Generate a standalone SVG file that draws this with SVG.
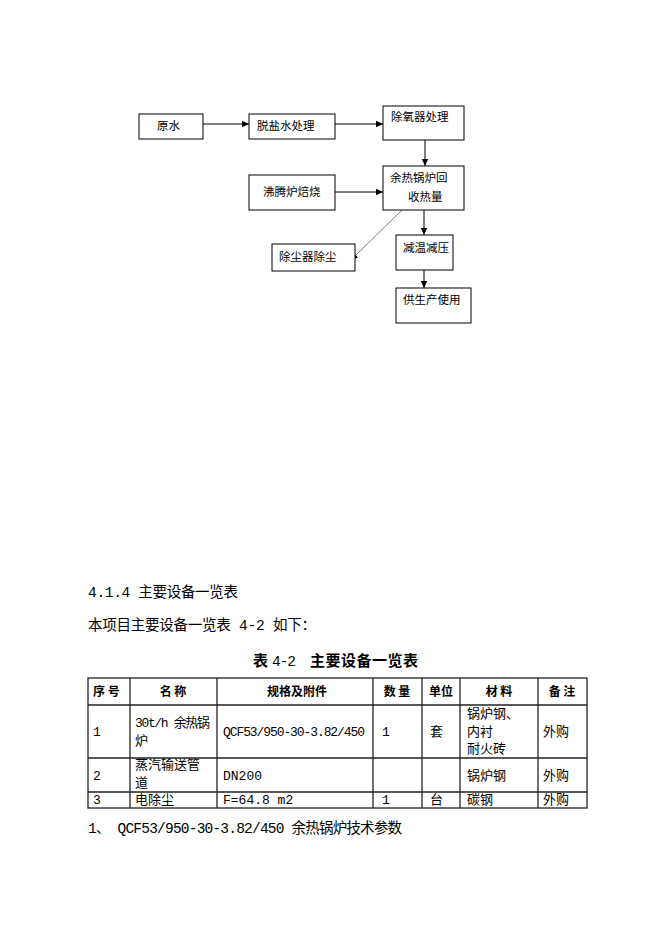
<svg xmlns="http://www.w3.org/2000/svg" width="662" height="936" viewBox="0 0 662 936">
<style>
.box{fill:#fff;stroke:#000;stroke-width:1}
.fc{font-family:"Noto Sans CJK SC","Liberation Sans",sans-serif;font-size:11.5px;fill:#000}
.ln{stroke:#000;stroke-width:1;fill:none}
.dg{stroke:#444;stroke-width:0.7;fill:none}
.body{font-family:"Liberation Mono","Noto Sans CJK SC",monospace;font-size:14.5px;fill:#000}
.cap{font-family:"Noto Sans CJK SC",sans-serif;font-size:15px;font-weight:bold;fill:#000}
.capn{font-family:"Liberation Mono",monospace;font-size:14.5px;fill:#000}
.th{font-family:"Noto Sans CJK SC",sans-serif;font-size:12px;font-weight:bold;fill:#000}
.td{font-family:"Liberation Mono","Noto Sans CJK SC",monospace;font-size:13px;fill:#000}
.grid{stroke:#222;stroke-width:1.3;fill:none}
</style>
<defs>
<marker id="ah" markerWidth="8" markerHeight="8" refX="7" refY="4" orient="auto" markerUnits="userSpaceOnUse">
<path d="M0,0.8 L7,4 L0,7.2 Z" fill="#000"/>
</marker>
</defs>
<rect width="662" height="936" fill="#fff"/>

<g id="connectors">
<line class="ln" x1="203" y1="124" x2="249" y2="124" marker-end="url(#ah)"/>
<line class="ln" x1="335" y1="124" x2="383" y2="124" marker-end="url(#ah)"/>
<line class="ln" x1="425" y1="140" x2="425" y2="166" marker-end="url(#ah)"/>
<line class="ln" x1="335" y1="192" x2="383" y2="192" marker-end="url(#ah)"/>
<line class="ln" x1="424" y1="210" x2="424" y2="235" marker-end="url(#ah)"/>
<line class="ln" x1="424" y1="270" x2="424" y2="288" marker-end="url(#ah)"/>
<line class="dg" x1="402" y1="210" x2="351" y2="260" marker-end="url(#ah)"/>
</g>

<g id="n-yuanshui"><rect class="box" x="139" y="114" width="64" height="25"/><text class="fc" x="157" y="130">原水</text></g>
<g id="n-tuoyan"><rect class="box" x="249" y="114" width="86" height="25"/><text class="fc" x="257" y="130">脱盐水处理</text></g>
<g id="n-chuyang"><rect class="box" x="383" y="106" width="81" height="34"/><text class="fc" x="391" y="121">除氧器处理</text></g>
<g id="n-feiteng"><rect class="box" x="249" y="175" width="86" height="35"/><text class="fc" x="263" y="196">沸腾炉焙烧</text></g>
<g id="n-yure"><rect class="box" x="383" y="166" width="81" height="44"/><text class="fc" x="390" y="182">余热锅炉回</text><text class="fc" x="408" y="201">收热量</text></g>
<g id="n-chuchen"><rect class="box" x="272" y="244" width="83" height="27"/><text class="fc" x="279" y="261">除尘器除尘</text></g>
<g id="n-jianwen"><rect class="box" x="396" y="235" width="57" height="35"/><text class="fc" x="403" y="252">减温减压</text></g>
<g id="n-gongsheng"><rect class="box" x="396" y="288" width="75" height="35"/><text class="fc" x="403" y="304">供生产使用</text></g>

<text class="body" x="88" y="597" textLength="150">4.1.4 主要设备一览表</text>
<text class="body" x="88" y="630" textLength="228">本项目主要设备一览表 4-2 如下：</text>
<text class="cap" x="253" y="666">表</text>
<text class="capn" x="272" y="666" textLength="24">4-2</text>
<text class="cap" x="310" y="666" textLength="108">主要设备一览表</text>

<g id="table">
<rect class="grid" x="88" y="678" width="499" height="130"/>
<line class="grid" x1="88" y1="705" x2="587" y2="705"/>
<line class="grid" x1="88" y1="758" x2="587" y2="758"/>
<line class="grid" x1="88" y1="792" x2="587" y2="792"/>
<line class="grid" x1="130" y1="678" x2="130" y2="808"/>
<line class="grid" x1="217" y1="678" x2="217" y2="808"/>
<line class="grid" x1="373" y1="678" x2="373" y2="808"/>
<line class="grid" x1="422" y1="678" x2="422" y2="808"/>
<line class="grid" x1="460" y1="678" x2="460" y2="808"/>
<line class="grid" x1="538" y1="678" x2="538" y2="808"/>

<text class="th" x="93" y="696">序 号</text>
<text class="th" x="173" y="696" text-anchor="middle">名 称</text>
<text class="th" x="297" y="696" text-anchor="middle">规格及附件</text>
<text class="th" x="397" y="696" text-anchor="middle">数 量</text>
<text class="th" x="441" y="696" text-anchor="middle">单位</text>
<text class="th" x="499" y="696" text-anchor="middle">材 料</text>
<text class="th" x="562" y="696" text-anchor="middle">备 注</text>

<text class="td" x="93" y="736">1</text>
<text class="td" x="135" y="727" textLength="75">30t/h 余热锅</text>
<text class="td" x="135" y="745">炉</text>
<text class="td" x="223" y="736" textLength="142">QCF53/950-30-3.82/450</text>
<text class="td" x="382" y="736">1</text>
<text class="td" x="430" y="736">套</text>
<text class="td" x="467" y="718">锅炉钢、</text>
<text class="td" x="467" y="736">内衬</text>
<text class="td" x="467" y="753">耐火砖</text>
<text class="td" x="543" y="736">外购</text>

<text class="td" x="93" y="780">2</text>
<text class="td" x="135" y="769">蒸汽输送管</text>
<text class="td" x="135" y="787">道</text>
<text class="td" x="223" y="780">DN200</text>
<text class="td" x="467" y="780">锅炉钢</text>
<text class="td" x="543" y="780">外购</text>

<text class="td" x="93" y="804">3</text>
<text class="td" x="135" y="804">电除尘</text>
<text class="td" x="223" y="804">F=64.8 m2</text>
<text class="td" x="382" y="804">1</text>
<text class="td" x="430" y="804">台</text>
<text class="td" x="467" y="804">碳钢</text>
<text class="td" x="543" y="804">外购</text>
</g>

<text class="body" x="88" y="833" textLength="314">1、 QCF53/950-30-3.82/450 余热锅炉技术参数</text>
</svg>
